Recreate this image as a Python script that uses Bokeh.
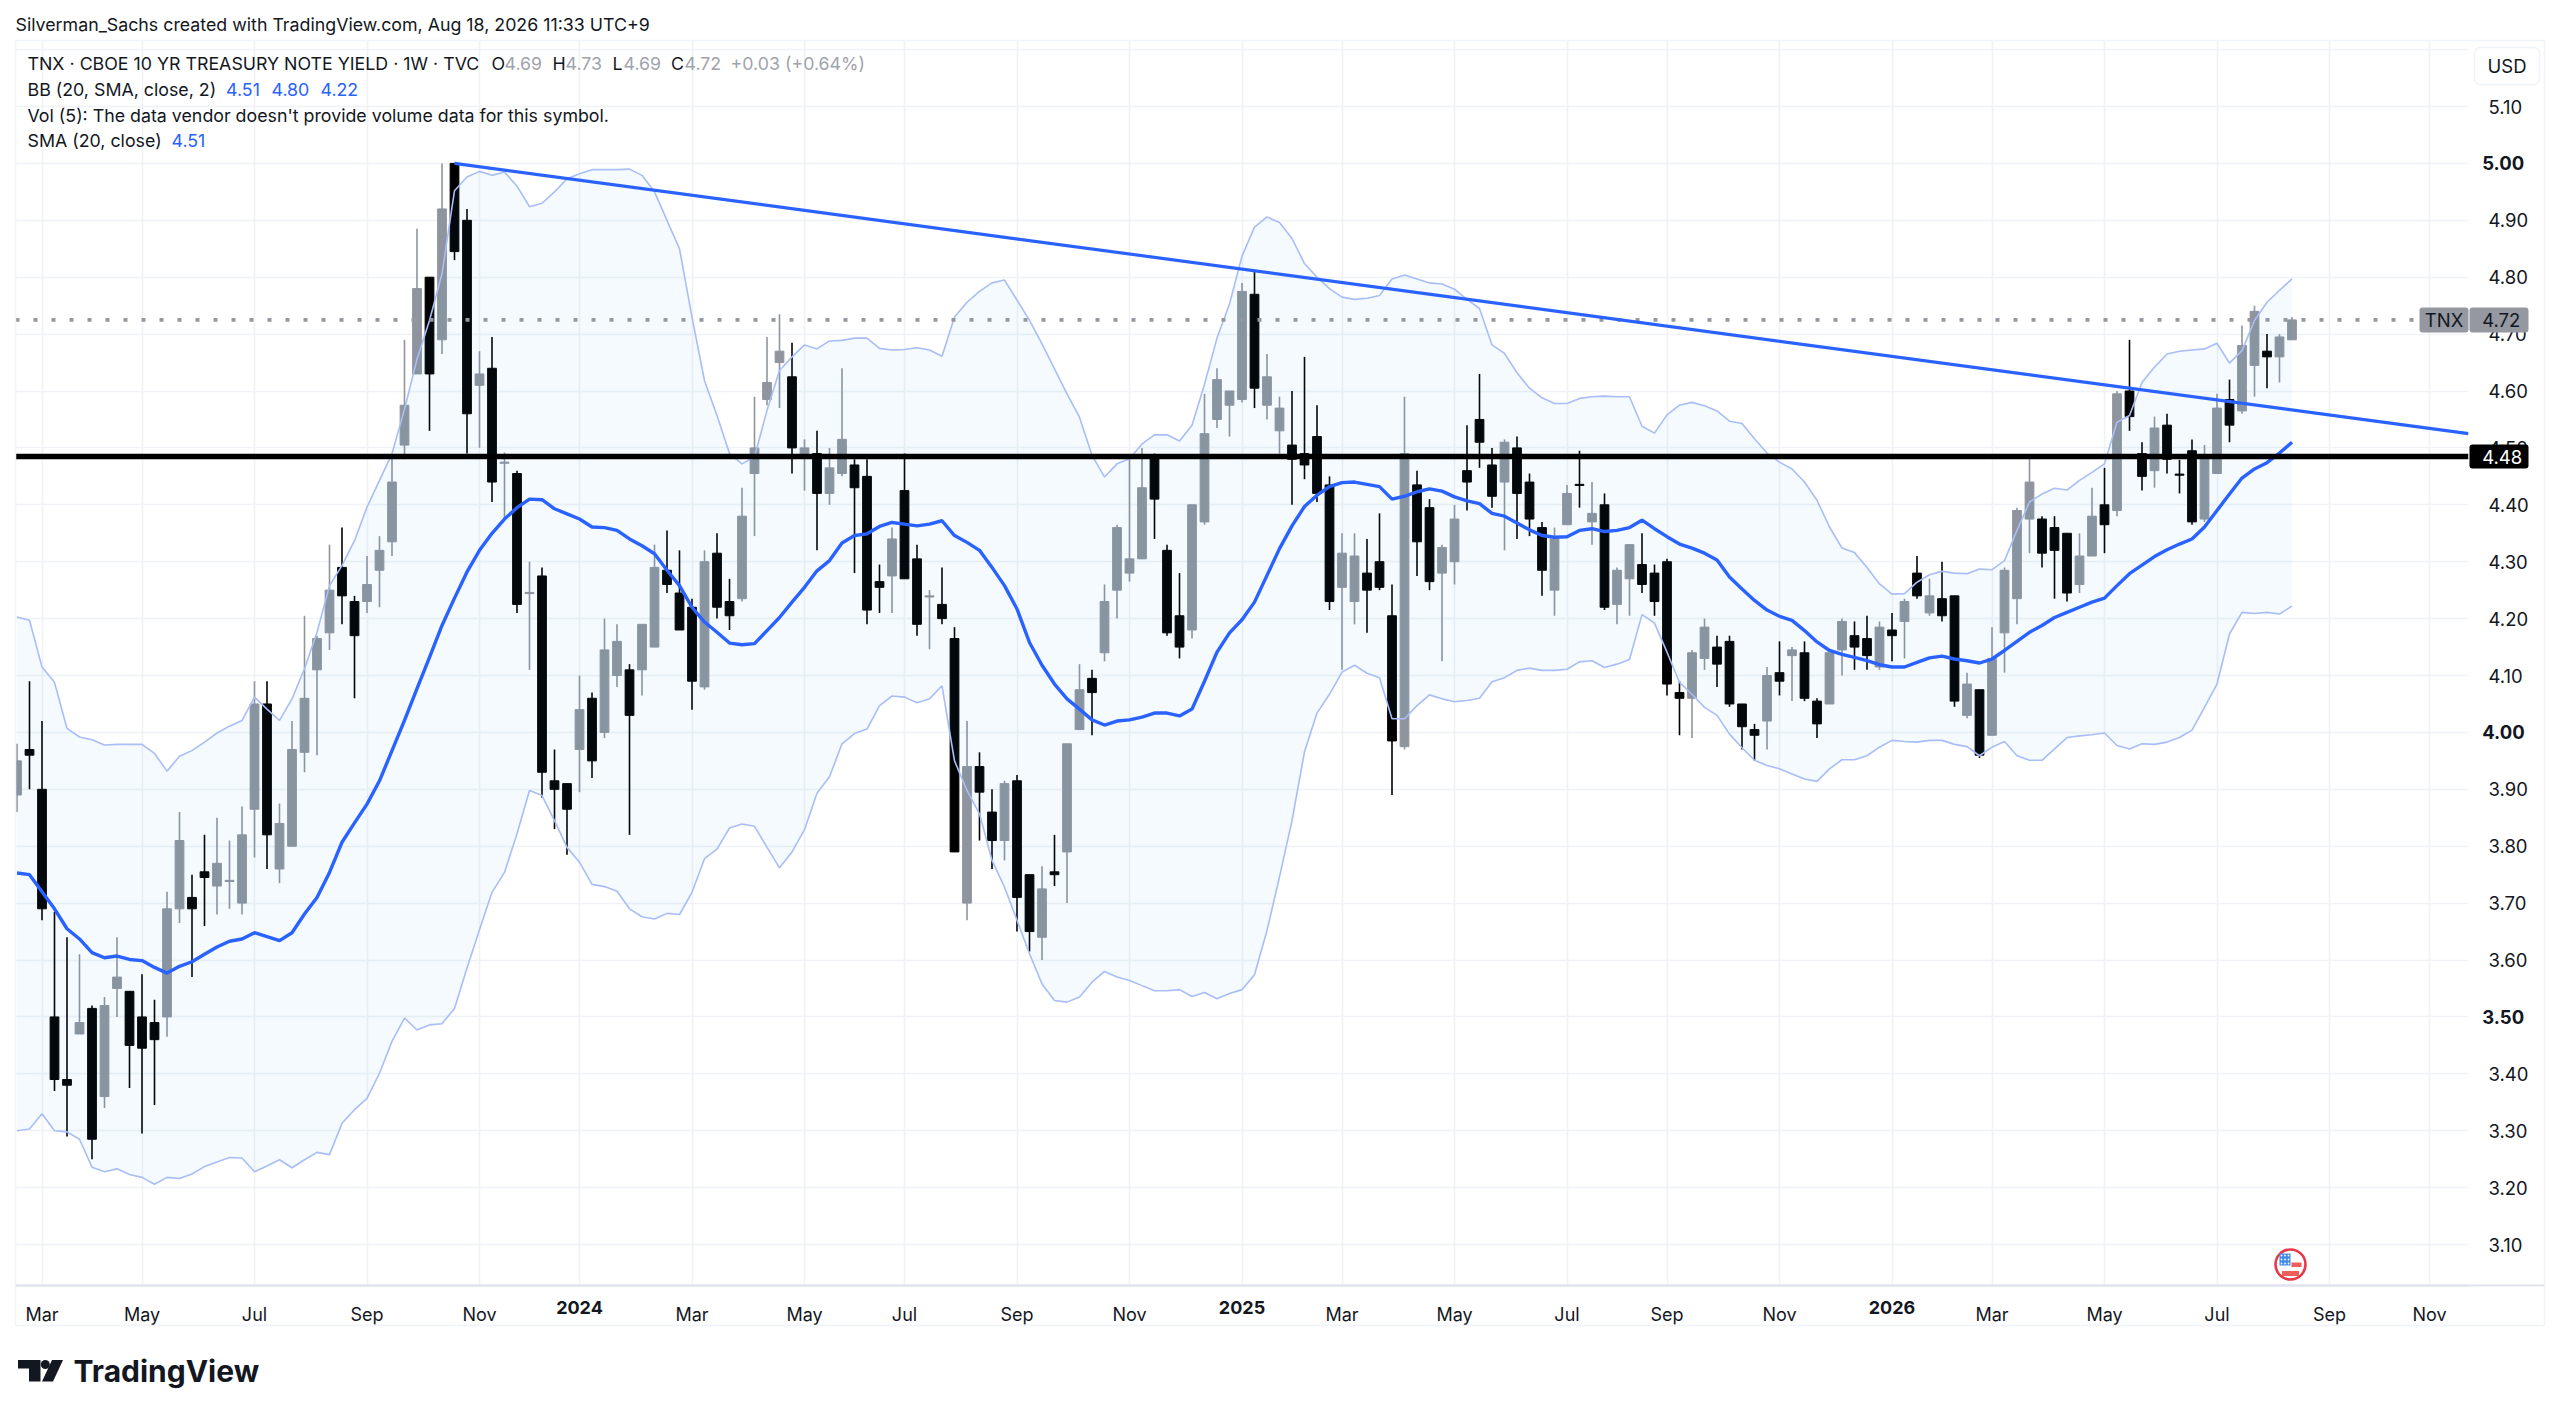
from bokeh.plotting import figure
from bokeh.layouts import column
from bokeh.models import Range1d, FixedTicker, ColumnDataSource
from bokeh.core.properties import value
from bokeh.embed import file_html
from bokeh.resources import INLINE

opens = [3.89,3.97,3.90,3.50,3.39,3.47,3.515,3.36,3.55,3.545,
 3.50,3.49,3.50,3.69,3.71,3.755,3.73,3.738,3.70,3.865,
 4.05,3.76,3.80,3.965,4.11,4.175,4.29,4.23,4.23,4.285,
 4.335,4.505,4.63,4.80,4.69,5.0,4.90,4.61,4.64,4.473,
 4.455,4.244,4.275,3.915,3.91,3.97,4.06,4.0,4.10,4.11,
 4.11,4.15,4.285,4.245,4.22,4.08,4.315,4.23,4.235,4.455,
 4.585,4.65,4.625,4.485,4.49,4.42,4.455,4.47,4.45,4.265,
 4.275,4.425,4.305,4.238,4.225,4.165,3.70,3.94,3.86,3.81,
 3.915,3.75,3.64,3.755,3.79,4.005,4.095,4.14,4.25,4.28,
 4.305,4.485,4.32,4.205,4.18,4.37,4.55,4.575,4.585,4.77,
 4.575,4.53,4.505,4.49,4.52,4.435,4.255,4.23,4.28,4.30,
 4.205,3.975,4.435,4.395,4.28,4.30,4.46,4.55,4.47,4.44,
 4.50,4.44,4.36,4.25,4.365,4.436,4.37,4.40,4.225,4.27,
 4.295,4.28,4.30,4.07,4.06,4.13,4.15,4.16,4.05,4.005,
 4.02,4.105,4.135,4.14,4.055,4.05,4.145,4.17,4.165,4.115,
 4.18,4.195,4.28,4.21,4.235,4.24,4.03,4.075,3.995,4.175,
 4.235,4.375,4.375,4.36,4.35,4.26,4.31,4.40,4.39,4.60,
 4.49,4.46,4.54,4.454,4.495,4.375,4.455,4.585,4.565,4.645,
 4.67,4.66,4.69]
highs = [3.98,4.09,4.02,3.685,3.64,3.61,3.52,3.535,3.64,3.545,
 3.575,3.53,3.72,3.86,3.75,3.82,3.85,3.81,3.87,4.09,
 4.09,3.875,4.02,4.205,4.17,4.33,4.36,4.24,4.31,4.345,
 4.49,4.69,4.885,4.80,5.00,5.0,4.92,4.67,4.695,4.492,
 4.46,4.30,4.29,3.97,3.91,4.10,4.07,4.20,4.19,4.12,
 4.19,4.33,4.355,4.32,4.235,4.32,4.35,4.27,4.43,4.59,
 4.695,4.735,4.685,4.515,4.53,4.50,4.64,4.48,4.48,4.295,
 4.36,4.49,4.33,4.25,4.29,4.185,4.02,3.965,3.90,3.915,
 3.925,3.75,3.765,3.82,3.98,4.12,4.11,4.26,4.365,4.48,
 4.50,4.49,4.33,4.28,4.40,4.595,4.64,4.60,4.79,4.81,
 4.665,4.59,4.60,4.66,4.575,4.45,4.35,4.35,4.34,4.385,
 4.26,4.59,4.46,4.41,4.33,4.40,4.54,4.63,4.50,4.515,
 4.52,4.455,4.37,4.36,4.435,4.495,4.44,4.42,4.29,4.33,
 4.35,4.295,4.305,4.09,4.145,4.20,4.17,4.17,4.05,4.015,
 4.115,4.16,4.15,4.16,4.06,4.14,4.20,4.195,4.205,4.195,
 4.21,4.235,4.31,4.27,4.30,4.24,4.105,4.075,4.185,4.29,
 4.395,4.485,4.38,4.38,4.35,4.35,4.43,4.465,4.60,4.69,
 4.51,4.555,4.56,4.479,4.515,4.505,4.595,4.62,4.715,4.75,
 4.70,4.70,4.73]
lows = [3.86,3.90,3.67,3.37,3.29,3.47,3.25,3.34,3.50,3.375,
 3.295,3.345,3.465,3.665,3.57,3.66,3.68,3.69,3.68,3.78,
 3.76,3.735,3.80,3.93,3.96,4.145,4.19,4.06,4.21,4.22,
 4.31,4.48,4.63,4.53,4.665,4.83,4.49,4.50,4.405,4.375,
 4.21,4.11,3.885,3.83,3.785,3.895,3.92,3.99,4.08,3.82,
 4.065,4.15,4.245,4.18,4.04,4.075,4.20,4.18,4.23,4.345,
 4.575,4.57,4.455,4.425,4.32,4.40,4.45,4.28,4.19,4.21,
 4.21,4.27,4.17,4.146,4.19,3.79,3.67,3.81,3.76,3.775,
 3.65,3.615,3.60,3.73,3.70,4.005,3.995,4.125,4.20,4.265,
 4.305,4.34,4.17,4.13,4.165,4.365,4.535,4.52,4.58,4.57,
 4.55,4.49,4.40,4.445,4.405,4.215,4.11,4.19,4.175,4.25,
 3.89,3.97,4.275,4.25,4.125,4.26,4.39,4.465,4.395,4.32,
 4.34,4.345,4.24,4.205,4.365,4.395,4.33,4.215,4.19,4.205,
 4.245,4.205,4.065,3.995,3.99,4.11,4.08,4.045,3.97,3.95,
 3.97,4.065,4.055,4.055,3.99,4.05,4.10,4.11,4.11,4.11,
 4.125,4.13,4.235,4.205,4.195,4.045,4.025,3.955,3.995,4.105,
 4.19,4.315,4.29,4.235,4.23,4.245,4.31,4.315,4.38,4.53,
 4.425,4.43,4.455,4.42,4.365,4.37,4.455,4.51,4.56,4.59,
 4.605,4.615,4.69]
closes = [3.95,3.96,3.69,3.39,3.38,3.49,3.285,3.52,3.57,3.45,
 3.445,3.46,3.69,3.81,3.69,3.745,3.77,3.74,3.82,4.05,
 3.82,3.84,3.97,4.06,4.165,4.25,4.24,4.17,4.26,4.32,
 4.44,4.575,4.78,4.63,4.92,4.845,4.56,4.63,4.44,4.475,
 4.225,4.246,3.93,3.90,3.865,4.04,3.95,4.145,4.16,4.03,
 4.19,4.29,4.26,4.18,4.09,4.30,4.22,4.205,4.38,4.50,
 4.615,4.67,4.50,4.50,4.42,4.465,4.515,4.43,4.215,4.255,
 4.34,4.27,4.19,4.24,4.20,3.79,3.94,3.895,3.81,3.91,
 3.71,3.65,3.725,3.75,3.98,4.075,4.07,4.23,4.36,4.305,
 4.43,4.41,4.175,4.15,4.40,4.525,4.62,4.60,4.775,4.605,
 4.625,4.57,4.48,4.47,4.42,4.23,4.315,4.31,4.25,4.255,
 3.985,4.49,4.335,4.265,4.325,4.375,4.44,4.51,4.415,4.51,
 4.42,4.375,4.285,4.34,4.42,4.434,4.385,4.22,4.285,4.33,
 4.26,4.23,4.085,4.06,4.14,4.185,4.12,4.05,4.01,3.995,
 4.10,4.09,4.145,4.06,4.015,4.14,4.195,4.15,4.135,4.185,
 4.17,4.23,4.24,4.24,4.205,4.055,4.085,3.96,4.13,4.285,
 4.39,4.44,4.315,4.32,4.245,4.31,4.38,4.365,4.595,4.555,
 4.45,4.535,4.48,4.452,4.37,4.485,4.57,4.54,4.68,4.74,
 4.66,4.695,4.725]
sma = [3.753,3.75,3.72,3.69,3.655,3.637,3.613,3.604,3.607,3.601,
 3.599,3.587,3.577,3.589,3.597,3.61,3.623,3.633,3.637,3.648,
 3.641,3.634,3.648,3.681,3.71,3.754,3.807,3.841,3.874,3.915,
 3.968,4.021,4.077,4.132,4.188,4.236,4.282,4.32,4.35,4.375,
 4.395,4.41,4.409,4.393,4.384,4.375,4.361,4.36,4.355,4.34,
 4.328,4.314,4.285,4.258,4.22,4.194,4.176,4.157,4.154,4.156,
 4.179,4.202,4.229,4.255,4.284,4.302,4.333,4.346,4.349,4.362,
 4.369,4.366,4.363,4.366,4.372,4.346,4.334,4.32,4.29,4.258,
 4.217,4.158,4.118,4.085,4.059,4.041,4.022,4.013,4.02,4.022,
 4.027,4.034,4.034,4.029,4.041,4.09,4.141,4.175,4.198,4.229,
 4.276,4.323,4.363,4.397,4.417,4.432,4.439,4.44,4.436,4.432,
 4.41,4.415,4.423,4.428,4.424,4.414,4.407,4.402,4.385,4.38,
 4.368,4.356,4.346,4.343,4.344,4.355,4.358,4.353,4.355,4.36,
 4.373,4.358,4.344,4.331,4.324,4.315,4.303,4.273,4.252,4.232,
 4.215,4.204,4.197,4.179,4.159,4.144,4.137,4.132,4.126,4.119,
 4.115,4.115,4.123,4.131,4.134,4.129,4.126,4.122,4.129,4.144,
 4.16,4.176,4.188,4.202,4.211,4.22,4.229,4.236,4.258,4.279,
 4.294,4.309,4.321,4.331,4.34,4.361,4.39,4.419,4.447,4.463,
 4.474,4.491,4.51]
bb_upper = [4.203,4.197,4.115,4.088,4.007,3.992,3.987,3.978,3.979,3.979,
 3.979,3.963,3.932,3.958,3.968,3.983,3.999,4.011,4.021,4.062,
 4.041,4.021,4.059,4.112,4.176,4.258,4.293,4.337,4.396,4.443,
 4.49,4.568,4.656,4.724,4.806,4.952,4.976,4.986,4.979,4.985,
 4.96,4.924,4.93,4.95,4.973,4.982,4.989,4.989,4.989,4.99,
 4.979,4.95,4.90,4.85,4.73,4.618,4.557,4.49,4.472,4.484,
 4.566,4.636,4.66,4.681,4.674,4.688,4.689,4.693,4.693,4.675,
 4.672,4.673,4.676,4.672,4.661,4.73,4.756,4.775,4.79,4.795,
 4.76,4.724,4.683,4.639,4.595,4.554,4.487,4.449,4.472,4.481,
 4.507,4.523,4.523,4.512,4.54,4.612,4.693,4.753,4.837,4.888,
 4.906,4.896,4.868,4.824,4.80,4.78,4.765,4.761,4.763,4.768,
 4.797,4.804,4.797,4.79,4.788,4.779,4.761,4.745,4.681,4.666,
 4.632,4.605,4.588,4.578,4.578,4.587,4.59,4.591,4.59,4.59,
 4.538,4.526,4.558,4.575,4.58,4.574,4.565,4.547,4.543,4.516,
 4.491,4.475,4.463,4.44,4.408,4.361,4.324,4.316,4.29,4.261,
 4.243,4.244,4.264,4.277,4.283,4.28,4.279,4.287,4.286,4.302,
 4.355,4.405,4.419,4.429,4.426,4.443,4.457,4.472,4.545,4.557,
 4.615,4.642,4.665,4.67,4.672,4.674,4.684,4.649,4.671,4.724,
 4.756,4.777,4.797]
bb_lower = [3.30,3.303,3.33,3.30,3.298,3.285,3.236,3.228,3.233,3.223,
 3.218,3.206,3.218,3.216,3.224,3.237,3.245,3.253,3.252,3.228,
 3.238,3.249,3.235,3.249,3.262,3.258,3.313,3.337,3.357,3.401,
 3.457,3.498,3.477,3.486,3.488,3.515,3.586,3.653,3.719,3.754,
 3.822,3.898,3.889,3.845,3.798,3.772,3.733,3.729,3.721,3.69,
 3.676,3.672,3.682,3.68,3.719,3.778,3.795,3.832,3.839,3.835,
 3.798,3.762,3.79,3.829,3.893,3.922,3.98,3.998,4.006,4.047,
 4.064,4.062,4.052,4.059,4.082,3.95,3.898,3.857,3.775,3.728,
 3.67,3.611,3.558,3.529,3.526,3.535,3.561,3.58,3.57,3.564,
 3.555,3.546,3.546,3.548,3.536,3.543,3.532,3.541,3.548,3.574,
 3.652,3.746,3.845,3.966,4.034,4.067,4.106,4.118,4.104,4.096,
 4.024,4.024,4.047,4.066,4.059,4.054,4.056,4.06,4.089,4.096,
 4.109,4.113,4.109,4.109,4.111,4.124,4.126,4.114,4.12,4.128,
 4.207,4.192,4.141,4.088,4.067,4.044,4.03,3.997,3.973,3.951,
 3.942,3.936,3.927,3.918,3.914,3.936,3.952,3.952,3.959,3.974,
 3.986,3.984,3.983,3.986,3.986,3.979,3.975,3.959,3.974,3.984,
 3.959,3.951,3.951,3.971,3.991,3.994,3.996,3.999,3.977,3.971,
 3.98,3.979,3.983,3.991,4.004,4.044,4.085,4.173,4.211,4.209,
 4.211,4.208,4.222]

x_tick_idx = [2,10,19,28,37,45,54,63,71,80,89,98,106,115,124,132,141,150,158,167,176,185,193]
x_tick_lab = ["Mar","May","Jul","Sep","Nov","2024","Mar","May","Jul","Sep","Nov","2025",
              "Mar","May","Jul","Sep","Nov","2026","Mar","May","Jul","Sep","Nov"]
y_ticks = [3.1,3.2,3.3,3.4,3.5,3.6,3.7,3.8,3.9,4.0,4.1,4.2,4.3,4.4,4.5,4.6,4.7,4.8,4.9,5.0,5.1,5.2]
bold_y = [3.5,4.0,5.0]
support_level = 4.485
last_price = 4.725
trend_x = [35, 196.12]
trend_y = [5.0, 4.525]

FONT = "Inter"
DARK = "#131722"
GRAY = "#8f949e"
BLUE = "#2962ff"
GRID = "#f0f2f6"
W, H = 2552, 1403
FL, FR, FT, FB = 15, 2468, 40, 1285      # plot frame in page pixels
X0, X1, Y0, Y1 = -0.12, 196.12, 3.028, 5.216

n = len(closes)
xs = list(range(n))
p = figure(width=W, height=H, output_backend="svg", toolbar_location=None,
           x_range=Range1d(X0, X1), y_range=Range1d(Y0, Y1),
           x_axis_location="below", y_axis_location="right",
           min_border_left=FL, min_border_right=W-FR, min_border_top=FT, min_border_bottom=H-FB)
p.frame_align = False
p.outline_line_color = None
p.background_fill_color = "white"

p.yaxis.ticker = FixedTicker(ticks=y_ticks)
p.xaxis.ticker = FixedTicker(ticks=x_tick_idx)
p.yaxis.major_label_overrides = {t: ("" if (t in bold_y or t == 5.2) else f"{t:.2f}") for t in y_ticks}
p.xaxis.major_label_overrides = {i: ("" if l.isdigit() else l) for i, l in zip(x_tick_idx, x_tick_lab)}
for ax in (p.xaxis[0], p.yaxis[0]):
    ax.major_tick_line_color = None
    ax.minor_tick_line_color = None
    ax.major_label_text_font = FONT
    ax.major_label_text_color = DARK
    ax.major_label_text_font_style = "normal"
p.xaxis.major_label_text_font_size = "18px"
p.yaxis.major_label_text_font_size = "18.5px"
p.yaxis.axis_line_color = None
p.xaxis.axis_line_color = "#e0e3eb"
p.xaxis.axis_line_width = 2
p.yaxis.major_label_standoff = 14
p.xaxis.major_label_standoff = 12
p.xgrid.grid_line_color = GRID
p.ygrid.grid_line_color = GRID
p.xgrid.grid_line_width = 1.6
p.ygrid.grid_line_width = 1.6

cols = [GRAY if c >= o else "#000000" for o, c in zip(opens, closes)]
src = ColumnDataSource(dict(x=xs, o=opens, h=highs, l=lows, c=closes, col=cols))
p.segment("x", "h", "x", "l", source=src, line_color="col", line_width=1.6)
p.vbar(x="x", top="o", bottom="c", width=0.7, source=src, fill_color="col", line_color="col", line_width=1)

p.varea(x=xs, y1=bb_lower, y2=bb_upper, fill_color="#2196f3", fill_alpha=0.05)
p.line(xs, bb_upper, line_color="#a9bdf6", line_width=1.6)
p.line(xs, bb_lower, line_color="#a9bdf6", line_width=1.6)
p.line(xs, sma, line_color=BLUE, line_width=3.4)

p.line([X0, X1], [last_price, last_price], line_color="#9598a1", line_width=3.6, line_dash="4 14")
p.line([X0, X1], [support_level, support_level], line_color="#000000", line_width=5.5)
p.line(trend_x, trend_y, line_color=BLUE, line_width=3.2)

# --- transparent sheet on top, in page pixels, for everything outside the plot frame ---
ov = figure(width=W, height=H, output_backend="svg", toolbar_location=None,
            x_range=Range1d(0, W), y_range=Range1d(H, 0),
            x_axis_location=None, y_axis_location=None, min_border=0,
            background_fill_color=None, border_fill_color=None, outline_line_color=None)
ov.grid.visible = False
ov.frame_align = False
ov.margin = (-H, 0, 0, 0)

def txt(px, py, s, size=17.8, color=DARK, style="normal", align="left"):
    ov.text([px], [py], text=[s], text_font=value(FONT), text_font_size=f"{size}px", text_color=color,
            text_font_style=style, text_align=align, text_baseline="middle")

def box(x0, y0, x1, y1, fill=None, line=None, lw=1.5, radius=0):
    ov.quad(left=[x0], right=[x1], top=[y0], bottom=[y1], fill_color=fill, fill_alpha=1 if fill else 0,
            line_color=line, line_width=lw, border_radius=radius)

# outer border of chart
box(FL, FT, 2544, 1325, line="#f0f3fa")
box(FL, FB-1, 2544, FB+1, fill="#e0e3eb")

# header
txt(15, 24, "Silverman_Sachs created with TradingView.com, Aug 18, 2026 11:33 UTC+9")
VAL = "#9fa3ac"
txt(27, 63, "TNX · CBOE 10 YR TREASURY NOTE YIELD · 1W · TVC")
for px, s, c in [(491, "O", DARK), (504, "4.69", VAL), (552, "H", DARK), (565, "4.73", VAL),
                 (612, "L", DARK), (623, "4.69", VAL), (670.5, "C", DARK), (684, "4.72", VAL),
                 (730, "+0.03 (+0.64%)", VAL)]:
    txt(px, 63, s, color=c)
txt(27, 89, "BB (20, SMA, close, 2)")
for px, s in [(225.6, "4.51"), (271, "4.80"), (320, "4.22")]:
    txt(px, 89, s, color=BLUE)
txt(27, 115, "Vol (5): The data vendor doesn't provide volume data for this symbol.")
txt(27, 140, "SMA (20, close)")
txt(171, 140, "4.51", color=BLUE)

# bold ticks
for i, l in zip(x_tick_idx, x_tick_lab):
    if l.isdigit():
        txt(FL + (i - X0) / (X1 - X0) * (FR - FL), 1307, l, 18, DARK, "bold", "center")
for t in bold_y:
    txt(2481.7, FB - (t - Y0) / (Y1 - Y0) * (FB - FT), f"{t:.2f}", 18.5, DARK, "bold")

# USD button
box(2474, 47, 2539, 84, fill="white", line="#f0f3fa", radius=6)
txt(2506.5, 65, "USD", 18.5, DARK, "normal", "center")

# price tags
box(2419, 307, 2468, 332, fill="#9598a1", radius=3)
box(2469, 307, 2528, 332, fill="#9598a1", radius=3)
txt(2443.5, 319.5, "TNX", 18.5, DARK, "normal", "center")
txt(2481.7, 319.5, "4.72", 18.5, DARK)
box(2469, 444, 2528, 468, fill="#000000", radius=3)
txt(2481.7, 456, "4.48", 18.5, "white")

# flag icon
fx, fy = 2290, 1264
ov.scatter([fx], [fy], size=30, fill_color="white", line_color="#e8394a", line_width=2.6)
box(fx-11, fy-11, fx, fy+1, fill="#3f8be8")
box(fx+1, fy-2, fx+11, fy+2.5, fill="#ee5f5b")
box(fx-8.5, fy+6.5, fx+8.5, fy+11.5, fill="#ee5f5b")
for a in (-9, -5.5, -2):
    for b in (-9, -5, -1):
        ov.scatter([fx+a], [fy+b], size=1.8, fill_color="white", line_color=None)

# logo
LOGO = "#131722"
ov.patch([17.5, 40, 40, 28.5, 28.5, 17.5], [1359.5, 1359.5, 1381, 1381, 1368, 1368], fill_color=LOGO, line_color=None)
ov.scatter([44.8], [1364], size=9, fill_color=LOGO, line_color=None)
ov.patch([51.5, 62.5, 52.5, 41.5], [1359.5, 1359.5, 1381, 1381], fill_color=LOGO, line_color=None)
txt(73, 1370, "TradingView", 30, LOGO, "bold")

open("out.html", "w").write(file_html(column(p, ov), INLINE))
